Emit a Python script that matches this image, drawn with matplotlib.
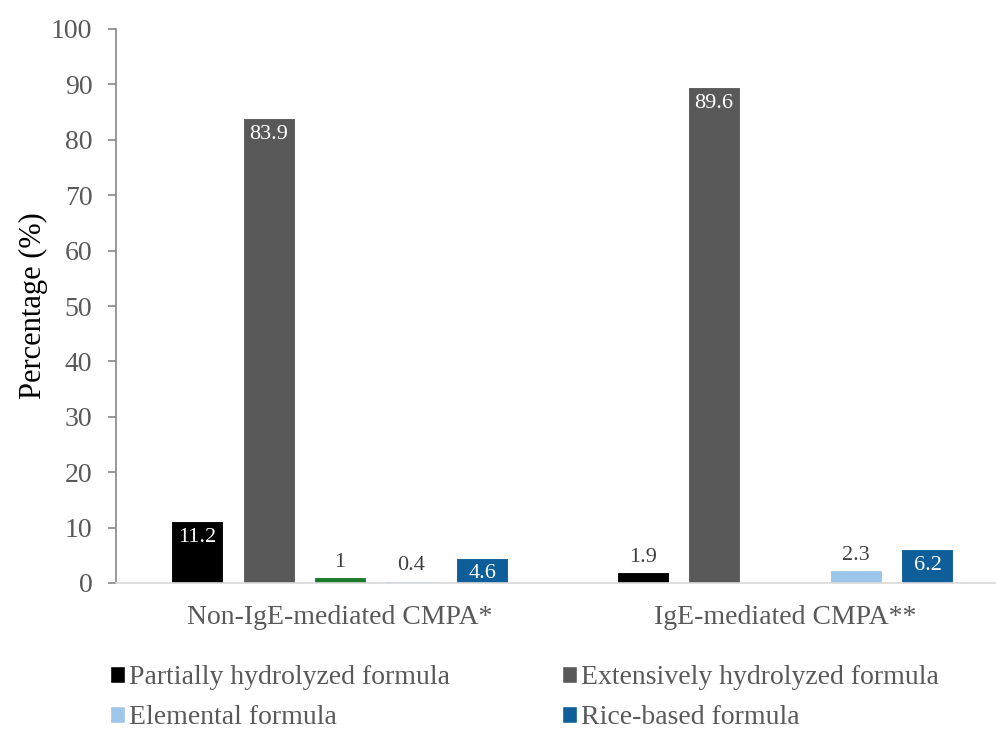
import numpy as np
import matplotlib.pyplot as plt
from matplotlib.patches import Patch

plt.rcParams['font.family'] = ['Liberation Serif', 'DejaVu Serif']

groups = ['Non-IgE-mediated CMPA*', 'IgE-mediated CMPA**']
series = ['Partially hydrolyzed formula', 'Extensively hydrolyzed formula',
          'Soy formula', 'Elemental formula', 'Rice-based formula']
partial = [11.2, 1.9]
extensive = [83.9, 89.6]
soy = [1.0, np.nan]
elemental = [0.4, 2.3]
rice = [4.6, 6.2]
colors = ['#000000', '#595959', '#1a7a2a', '#9dc6ea', '#0e5e9a']
in_legend = [True, True, False, True, True]

values = [partial, extensive, soy, elemental, rice]

fig = plt.figure(figsize=(9.96, 7.33), dpi=100)
ax = fig.add_axes([116 / 996, 150 / 733, 1 - 116 / 996, 554 / 733])

x = np.arange(len(groups))
step = 0.16
width = 0.117
handles = []
for i, (vals, col) in enumerate(zip(values, colors)):
    pos = x + (i - 2) * step
    bars = ax.bar(pos, vals, width, color=col, edgecolor='white', linewidth=0.8)
    for b, v in zip(bars, vals):
        if np.isnan(v):
            continue
        txt = f'{v:g}'
        cx = b.get_x() + b.get_width() / 2
        if v > 4:
            ax.annotate(txt, (cx, v), xytext=(0, -5), textcoords='offset points',
                        ha='center', va='top', color='white', fontsize=16)
        else:
            ax.annotate(txt, (cx, v), xytext=(0, 4), textcoords='offset points',
                        ha='center', va='bottom', color='#404040', fontsize=16)
    if in_legend[i]:
        handles.append(Patch(facecolor=col, edgecolor='white', label=series[i]))

ax.set_xlim(-0.503, 1.474)
ax.set_ylim(0, 100)
ax.set_yticks(np.arange(0, 101, 10))
ax.set_xticks(x)
ax.set_xticklabels(groups)
ax.tick_params(axis='x', length=0, pad=16, labelsize=20, labelcolor='#595959')
ax.tick_params(axis='y', direction='out', length=6, width=1.2, color='#868686',
               labelsize=20, labelcolor='#595959', pad=11)
ax.set_ylabel('Percentage (%)', fontsize=22)
ax.yaxis.set_label_coords(-0.094, 0.5)
ax.yaxis.label.set_va('center')

for s in ['top', 'right']:
    ax.spines[s].set_visible(False)
ax.spines['left'].set_color('#868686')
ax.spines['left'].set_linewidth(1.2)
ax.spines['bottom'].set_color('#d9d9d9')
ax.spines['bottom'].set_linewidth(1.2)

# legend rows: partial / extensive, then elemental / rice
order = [handles[0], handles[2], handles[1], handles[3]]
fig.legend(handles=order, ncol=2, loc='upper left',
           bbox_to_anchor=(110 / 996, 1 - 665 / 733), frameon=False,
           borderpad=0, borderaxespad=0,
           fontsize=20, handlelength=0.55, handleheight=0.55, handletextpad=0.15,
           columnspacing=4.0, labelspacing=0.55, labelcolor='#595959')

fig.savefig('out.png', dpi=100)
